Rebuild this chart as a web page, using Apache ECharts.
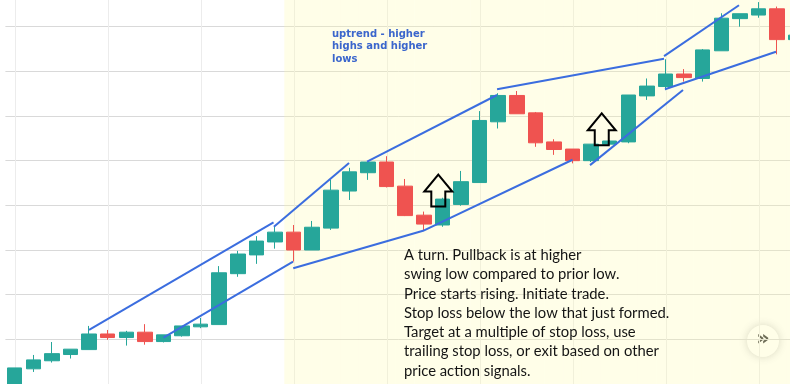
<!DOCTYPE html>
<html><head><meta charset="utf-8">
<script src="https://cdn.jsdelivr.net/npm/echarts@6/dist/echarts.min.js"></script>
<style>html,body{margin:0;padding:0;background:#fff}#c{width:790px;height:384px}</style>
</head><body><div id="c"></div>
<script>
// ---- data ----
const categories = ['1','2','3','4','5','6','7','8','9','10','11','12','13','14','15','16','17','18','19','20','21','22','23','24','25','26','27','28','29','30','31','32','33','34','35','36','37','38','39','40','41','42','43'];
const opens  = [88.2, 93.4, 95.2, 96.6, 97.7, 101.2, 100.4, 101.6, 99.5, 100.8, 102.8, 103.3, 114.7, 118.9, 121.8, 124.0, 120.0, 124.9, 133.2, 137.3, 139.7, 134.3, 127.8, 125.6, 130.2, 135.1, 148.7, 154.6, 150.7, 144.2, 142.6, 140.0, 143.7, 144.2, 154.5, 156.6, 159.4, 158.4, 164.6, 171.8, 172.6, 174.0, 167.1];
const closes = [93.6, 95.4, 96.8, 97.8, 101.2, 100.4, 101.6, 99.5, 101.0, 103.0, 103.4, 114.9, 119.1, 122.0, 124.0, 120.0, 125.1, 133.4, 137.5, 139.7, 134.2, 127.7, 125.8, 131.4, 135.3, 149.0, 154.6, 150.5, 144.0, 142.5, 140.0, 143.7, 144.4, 154.7, 156.7, 159.4, 158.6, 164.8, 171.9, 172.9, 174.0, 167.1, 168.1];
const lows   = [86.4, 92.7, 94.8, 95.7, 97.7, 99.9, 98.6, 98.8, 99.3, 100.6, 102.5, 103.3, 114.0, 116.9, 120.3, 117.4, 120.0, 124.5, 131.2, 135.7, 134.0, 127.6, 124.3, 125.2, 129.9, 135.1, 147.2, 150.5, 143.1, 141.3, 139.4, 139.7, 143.5, 143.9, 153.6, 155.8, 157.7, 157.7, 164.6, 170.0, 172.0, 163.8, 167.0];
const highs  = [93.6, 96.5, 99.4, 97.8, 103.0, 102.1, 101.9, 103.4, 101.0, 103.0, 104.8, 116.4, 119.8, 123.1, 125.2, 125.6, 126.5, 135.7, 138.4, 139.7, 141.0, 135.9, 128.6, 131.7, 137.7, 151.1, 155.1, 155.6, 150.9, 144.8, 142.6, 143.7, 144.6, 154.7, 158.4, 162.7, 160.5, 165.0, 173.0, 172.9, 175.5, 174.5, 168.1];

// trend lines drawn by the author: [index, price] points
const trendA = [[4, 102.1], [13.92, 126.2]];
const trendB = [[8, 100.4], [14.97, 117.4]];
const trendC = [[13.94, 125.2], [17.98, 139.5]];
const trendD = [[18.95, 139.8], [25.94, 154.7]];
const trendE = [[25.94, 156.0], [34.92, 162.8]];
const trendF = [[34.92, 163.4], [38.95, 174.8]];
const trendG = [[34.97, 156.0], [40.94, 164.4]];
const trendH = [[30.94, 139.0], [35.94, 155.8]];
const trendI = [[14.98, 115.9], [21.96, 124.3], [30.0, 140.2]];

// up-arrow annotations (tip position: [index, price])
const arrowTips = [[22.78, 136.9], [31.57, 150.6]];

// highlighted region (category indices)
const highlightFrom = 15;
const verticalGridIdx = [0, 5, 10, 15, 20, 25, 30, 35, 40];

const noteTop = ['uptrend - higher', 'highs and higher', 'lows'];
const noteBottom = ['A turn. Pullback is at higher', 'swing low compared to prior low.', 'Price starts rising. Initiate trade.', 'Stop loss below the low that just formed.', 'Target at a multiple of stop loss, use', 'trailing stop loss, or exit based on other', 'price action signals.'];

// ---- chart ----
const UP = '#26a69a', DOWN = '#ef5350', BLUE = '#3b6ddf';
const candleData = categories.map((c, i) => [opens[i], closes[i], lows[i], highs[i]]);
const yMin = 90, yMax = 180;
const hlData = categories.map((c, i) => i >= highlightFrom ? yMax : null);

const chart = echarts.init(document.getElementById('c'), null, {renderer: 'canvas'});
const trends = [trendA, trendB, trendC, trendD, trendE, trendF, trendG, trendH, trendI];

const series = [
  {
    type: 'custom', xAxisIndex: 1, z: 1, silent: true,
    data: verticalGridIdx.map(v => [v]),
    renderItem: (params, api) => {
      const p = api.coord([api.value(0), yMax]);
      const q = api.coord([api.value(0), yMin]);
      return {type: 'line', shape: {x1: Math.round(p[0]) + 0.5, y1: p[1], x2: Math.round(q[0]) + 0.5, y2: q[1]}, style: {stroke: '#ececec', lineWidth: 1}};
    }
  },
  {
    type: 'bar', data: hlData, barCategoryGap: '0%', z: 2, silent: true,
    itemStyle: {color: 'rgba(255,252,170,0.27)'}
  },
  {
    type: 'candlestick', data: candleData, z: 3, barWidth: 15,
    itemStyle: {color: UP, color0: DOWN, borderColor: UP, borderColor0: DOWN, borderWidth: 1}
  }
];
trends.forEach(t => series.push({
  type: 'line', xAxisIndex: 1, data: t, z: 4, symbol: 'none', silent: true,
  lineStyle: {color: BLUE, width: 2}
}));
series.push({
  type: 'custom', xAxisIndex: 1, z: 5, silent: true,
  data: arrowTips,
  renderItem: (params, api) => {
    const p = api.coord([api.value(0), api.value(1)]);
    const x = p[0], y = p[1];
    const hw = 14, sw = 7, hh = 17, h = 32;
    return {
      type: 'polygon',
      shape: {points: [[x, y], [x + hw, y + hh], [x + sw, y + hh], [x + sw, y + h], [x - sw, y + h], [x - sw, y + hh], [x - hw, y + hh]]},
      style: {fill: 'none', stroke: '#000', lineWidth: 2}
    };
  }
});

chart.setOption({
  animation: false,
  backgroundColor: '#ffffff',
  grid: {left: 5.4, right: -15, top: -18, bottom: 0, outerBoundsMode: 'none', containLabel: false},
  xAxis: [
    {type: 'category', data: categories, boundaryGap: true, axisLine: {show: false}, axisTick: {show: false}, axisLabel: {show: false}, splitLine: {show: false}},
    {type: 'value', min: -0.5, max: 42.5, show: false}
  ],
  yAxis: {type: 'value', min: yMin, max: yMax, interval: 10, axisLine: {show: false}, axisTick: {show: false}, axisLabel: {show: false},
    splitLine: {lineStyle: {color: '#d9d9d9', width: 1}}},
  series: series,
  graphic: [
    {type: 'text', left: 332, top: 28.6, z: 10, silent: true,
      style: {text: noteTop.join('\n'), font: 'bold 10px "DejaVu Sans"', lineHeight: 12.2, fill: '#3b66cc'}},
    {type: 'text', left: 404, top: 245.5, z: 10, silent: true,
      style: {text: noteBottom.join('\n'), font: '14.8px Lato', lineHeight: 19.3, fill: '#141414'}},
    {type: 'group', left: 747, top: 325, z: 10, children: [
      {type: 'circle', shape: {cx: 16, cy: 16, r: 16}, style: {fill: '#ffffff', shadowBlur: 8, shadowColor: 'rgba(0,0,0,0.2)'}},
      {type: 'text', x: 16, y: 15, style: {text: '»', font: 'bold 21px "DejaVu Sans"', fill: '#3a3a3a', align: 'center', verticalAlign: 'middle'}}
    ]}
  ]
});
</script></body></html>
